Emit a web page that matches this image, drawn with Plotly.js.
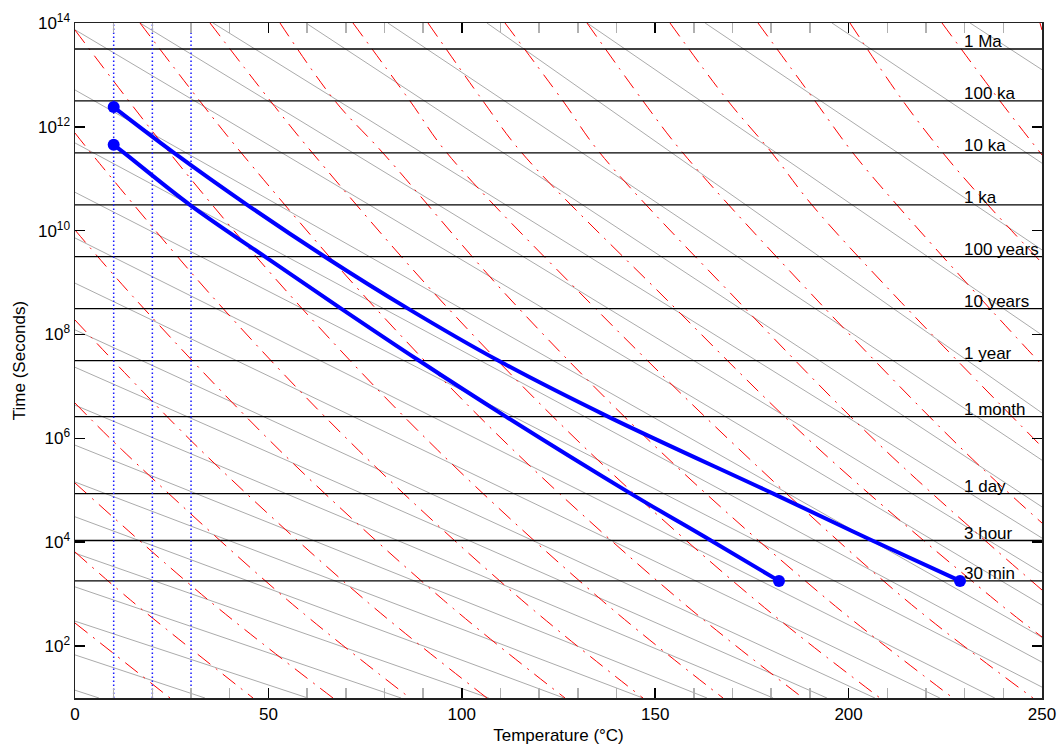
<!DOCTYPE html>
<html><head><meta charset="utf-8">
<script src="https://cdn.plot.ly/plotly-3.0.1.min.js"></script>
<style>body{margin:0;background:#fff}</style>
</head><body><div id="chart" style="width:1060px;height:751px"></div>
<script>
// horizontal reference durations (seconds)
const timeLabels = ['1 Ma','100 ka','10 ka','1 ka','100 years','10 years','1 year','1 month','1 day','3 hour','30 min'];
const timeValues = [3.156e13, 3.156e12, 3.156e11, 3.156e10, 3.156e9, 3.156e8, 3.156e7, 2.63e6, 86400, 10800, 1800];
// storage temperatures (dotted verticals)
const refTemps = [10, 20, 30];
// blue curves (temperature °C, time s)
const upperT    = [10, 25.6, 44.5, 64.6, 86.1, 109.4, 137.8, 180.5, 206.1, 228.8];
const upperTime = [2.4e12, 3.156e11, 3.156e10, 3.156e9, 3.156e8, 3.156e7, 2.63e6, 86400, 10800, 1800];
const lowerT    = [10, 12.7, 29.7, 49.1, 68.8, 88.9, 111.4, 143.7, 164.4, 182.0];
const lowerTime = [4.5e11, 3.156e11, 3.156e10, 3.156e9, 3.156e8, 3.156e7, 2.63e6, 86400, 10800, 1800];

// gray iso-lines: read entry point (T °C, log10 s) and exit point
const grayStartT   = [231.4,195.7,162.9,132.4,106.5,80.9,59.7,35.7,16.8, 0, 0, 0, 0, 0, 0, 0, 0, 0, 0, 0, 0, 0, 0, 0, 0, 0];
const grayStartLog = [14,14,14,14,14,14,14,14,14, 13.87,12.71,11.69,10.74,9.86,8.99,8.09,7.37,6.64,5.87,5.16,4.49,3.79,3.14,2.48,1.83,1.15];
const grayEndT     = [250,250,250,250,250,250,250,250,250,250,250,250,250, 237.8,223.6,206.8,194.4,180.5,163.4,146.8,126.4,107.0,84.3,60.2,33.6,6.2];
const grayEndLog   = [13.10,11.30,9.63,7.99,6.49,5.58,4.68,4.08,3.41,2.79,2.17,1.69,1.21, 1,1,1,1,1,1,1,1,1,1,1,1,1];

// red dash-dot iso-lines: read points (T °C, log10 s)
const redLinesT = [
  [249.48, 250],
  [224.15, 239.14, 250],
  [200.36, 214.06, 224.40, 236.04, 250],
  [176.58, 191.31, 201.14, 212.51, 234.49, 250],
  [153.83, 168.82, 180.20, 190.54, 213.03, 250],
  [132.37, 146.85, 157.19, 191.83, 229.58, 250],
  [111.17, 126.16, 135.73, 171.15, 209.41, 250],
  [91.26, 105.48, 115.56, 153.05, 192.61, 237.85, 250],
  [71.87, 86.61, 96.17, 132.37, 171.92, 214.84, 247.67],
  [53.00, 67.22, 79.63, 112.72, 150.98, 194.67, 226.99],
  [34.90, 50.52, 61.40, 94.47, 132.45, 175.90, 208.12],
  [16.80, 32.26, 43.02, 75.75, 113.31, 156.33, 188.21],
  [0, 24.48, 56.72, 93.74, 136.12, 167.53],
  [0, 4.14, 36.30, 73.24, 115.51, 146.85],
  [0, 15.80, 52.84, 95.24, 126.68],
  [0, 32.47, 75.00, 106.51],
  [0, 12.20, 54.94, 86.61],
  [0, 34.46, 66.70],
  [0, 14.35, 46.02],
  [0, 24.56]
];
const redLinesLog = [
  [14, 13.865],
  [14, 12.498, 11.458],
  [14, 12.498, 11.496, 10.495, 9.378],
  [14, 12.498, 11.496, 10.495, 8.665, 7.413],
  [14, 12.498, 11.496, 10.495, 8.665, 5.834],
  [14, 12.498, 11.496, 8.665, 5.776, 4.370],
  [14, 12.498, 11.496, 8.665, 5.776, 3.080],
  [14, 12.498, 11.496, 8.665, 5.776, 2.887, 2.175],
  [14, 12.498, 11.496, 8.665, 5.776, 2.887, 1],
  [14, 12.498, 11.496, 8.665, 5.776, 2.887, 1],
  [14, 12.498, 11.496, 8.665, 5.776, 2.887, 1],
  [14, 12.498, 11.496, 8.665, 5.776, 2.887, 1],
  [13.865, 11.496, 8.665, 5.776, 2.887, 1],
  [11.881, 11.496, 8.665, 5.776, 2.887, 1],
  [10.013, 8.665, 5.776, 2.887, 1],
  [8.280, 5.776, 2.887, 1],
  [6.681, 5.776, 2.887, 1],
  [5.141, 2.887, 1],
  [3.812, 2.887, 1],
  [2.444, 1]
];

const FONT = 'Liberation Sans, Arial, sans-serif';
const pw = v => Math.pow(10, v);
const traces = [];
grayStartT.forEach((t0, i) => {
  traces.push({x: [t0, grayEndT[i]], y: [pw(grayStartLog[i]), pw(grayEndLog[i])], mode: 'lines',
    line: {color: '#ababab', width: 1}, hoverinfo: 'skip', showlegend: false});
});
redLinesT.forEach((xs, i) => {
  traces.push({x: xs, y: redLinesLog[i].map(pw), mode: 'lines',
    line: {color: '#ff0000', width: 1, dash: '16px,7px,2px,7px', shape: 'spline', smoothing: 1},
    hoverinfo: 'skip', showlegend: false});
});
timeValues.forEach(v => {
  traces.push({x: [0, 250], y: [v, v], mode: 'lines', line: {color: '#000', width: 1.3}, hoverinfo: 'skip', showlegend: false});
});
refTemps.forEach(t => {
  traces.push({x: [t, t], y: [10, 1e14], mode: 'lines', line: {color: '#1a1aff', width: 1.5, dash: '1.5px,2.5px'}, hoverinfo: 'skip', showlegend: false});
});
[[upperT, upperTime], [lowerT, lowerTime]].forEach(([xs, ys]) => {
  traces.push({x: xs, y: ys, mode: 'lines', line: {color: '#0000ff', width: 4, shape: 'spline', smoothing: 1}, showlegend: false});
  traces.push({x: [xs[0], xs[xs.length-1]], y: [ys[0], ys[ys.length-1]], mode: 'markers',
    marker: {color: '#0000ff', size: 12}, showlegend: false});
});

const annotations = timeLabels.map((t, i) => ({
  x: 229.3, y: Math.log10(timeValues[i]), xref: 'x', yref: 'y', text: t, showarrow: false,
  xanchor: 'left', yanchor: 'bottom', yshift: -4, font: {family: FONT, size: 17, color: '#000'}
}));

const ytv = [], ytt = [];
for (let e = 2; e <= 14; e += 2) { ytv.push(Math.pow(10, e)); ytt.push('10<sup>' + e + '</sup>'); }

const layout = {
  width: 1060, height: 751,
  margin: {l: 75, r: 18, t: 23, b: 53},
  paper_bgcolor: '#fff', plot_bgcolor: '#fff',
  font: {family: FONT, size: 17, color: '#000'},
  xaxis: {range: [0, 250], tickvals: [0, 50, 100, 150, 200, 250], ticks: 'inside', ticklen: 10,
    tickcolor: '#000', tickwidth: 1.5, showline: true, linecolor: '#222', linewidth: 1.5, mirror: 'ticks',
    showgrid: false, zeroline: false, tickfont: {family: FONT, size: 17},
    minor: {dtick: 10, ticks: 'inside', ticklen: 10, tickcolor: '#b0b0b0', tickwidth: 1.5, showgrid: false},
    title: {text: 'Temperature (°C)', font: {family: FONT, size: 17}, standoff: 6}},
  yaxis: {type: 'log', range: [1, 14], tickvals: ytv, ticktext: ytt, ticks: 'inside', ticklen: 10,
    tickcolor: '#000', tickwidth: 1.5, showline: true, linecolor: '#222', linewidth: 1.5, mirror: 'ticks',
    showgrid: false, zeroline: false, tickfont: {family: FONT, size: 17},
    title: {text: 'Time (Seconds)', font: {family: FONT, size: 17}, standoff: 8}},
  annotations: annotations
};
Plotly.newPlot('chart', traces, layout, {displayModeBar: false, staticPlot: true});
</script></body></html>
